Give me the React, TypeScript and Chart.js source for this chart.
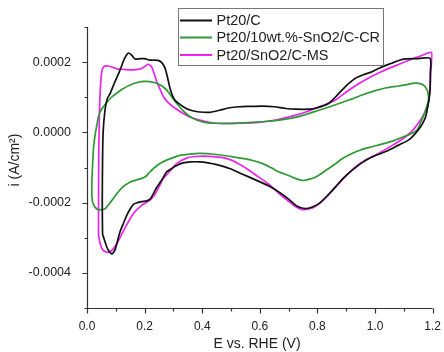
import React, { useEffect, useRef } from 'react';
import { Chart, registerables } from 'chart.js';

Chart.register(...registerables);

const FONT = '"Liberation Sans", Arial, Helvetica, sans-serif';

const seriesLabels = ['Pt20/C', 'Pt20/10wt.%-SnO2/C-CR', 'Pt20/SnO2/C-MS'];
const seriesColors = ['#111111', '#2f9a35', '#ee22ee'];

const xTickLabels = ['0.0', '0.2', '0.4', '0.6', '0.8', '1.0', '1.2'];
const yTickLabels = ['-0.0004', '-0.0002', '0.0000', '0.0002'];
const xTitle = 'E vs. RHE (V)';
const yTitle = 'i (A/cm²)';

// [E (V), i (A/cm²)] in scan order
const ptC: [number, number][] = [
  [0.054, -2.9e-4], [0.053, -2.0e-4], [0.054, -0.8e-4], [0.056, 0.0], [0.062, 0.6e-4],
  [0.070, 0.95e-4], [0.081, 1.12e-4], [0.095, 1.4e-4], [0.115, 1.78e-4], [0.130, 2.1e-4],
  [0.144, 2.26e-4], [0.155, 2.2e-4], [0.167, 2.09e-4], [0.185, 2.1e-4], [0.200, 2.1e-4],
  [0.215, 2.06e-4], [0.232, 2.06e-4], [0.247, 2.05e-4], [0.258, 2.0e-4], [0.270, 1.85e-4],
  [0.280, 1.55e-4], [0.290, 1.2e-4], [0.305, 0.92e-4], [0.334, 0.73e-4], [0.360, 0.63e-4],
  [0.391, 0.58e-4], [0.426, 0.57e-4], [0.460, 0.63e-4], [0.495, 0.7e-4], [0.530, 0.73e-4],
  [0.564, 0.74e-4], [0.610, 0.75e-4], [0.650, 0.73e-4], [0.690, 0.68e-4], [0.725, 0.66e-4],
  [0.771, 0.66e-4], [0.800, 0.7e-4], [0.840, 0.83e-4], [0.862, 1.0e-4], [0.886, 1.21e-4],
  [0.910, 1.4e-4], [0.932, 1.54e-4], [0.960, 1.64e-4], [0.990, 1.73e-4], [1.012, 1.82e-4],
  [1.035, 1.9e-4], [1.058, 1.97e-4], [1.080, 2.04e-4], [1.105, 2.09e-4], [1.150, 2.1e-4],
  [1.191, 2.11e-4], [1.192, 1.7e-4], [1.191, 1.21e-4], [1.187, 0.92e-4], [1.180, 0.6e-4],
  [1.176, 0.45e-4], [1.165, 0.25e-4], [1.150, 0.07e-4], [1.130, -0.12e-4], [1.116, -0.22e-4],
  [1.080, -0.37e-4], [1.047, -0.51e-4], [1.020, -0.6e-4], [0.989, -0.7e-4], [0.955, -0.86e-4],
  [0.920, -1.08e-4], [0.890, -1.3e-4], [0.863, -1.55e-4], [0.835, -1.8e-4], [0.805, -2.03e-4],
  [0.780, -2.13e-4], [0.759, -2.17e-4], [0.740, -2.14e-4], [0.725, -2.08e-4], [0.700, -1.9e-4],
  [0.667, -1.7e-4], [0.630, -1.52e-4], [0.587, -1.36e-4], [0.540, -1.19e-4], [0.495, -1.03e-4],
  [0.450, -0.92e-4], [0.420, -0.87e-4], [0.391, -0.84e-4], [0.360, -0.84e-4], [0.334, -0.87e-4],
  [0.310, -0.95e-4], [0.288, -1.06e-4], [0.276, -1.13e-4], [0.265, -1.28e-4], [0.252, -1.45e-4],
  [0.242, -1.57e-4], [0.230, -1.75e-4], [0.219, -1.9e-4], [0.207, -1.95e-4], [0.190, -1.97e-4],
  [0.175, -2.0e-4], [0.161, -2.05e-4], [0.150, -2.18e-4], [0.138, -2.36e-4], [0.127, -2.58e-4],
  [0.115, -2.82e-4], [0.105, -3.12e-4], [0.098, -3.33e-4], [0.090, -3.44e-4], [0.086, -3.46e-4],
  [0.078, -3.4e-4], [0.069, -3.27e-4], [0.060, -3.05e-4], [0.054, -2.9e-4],
];

const ptSnO2CR: [number, number][] = [
  [0.029, -0.03e-4], [0.034, 0.2e-4], [0.040, 0.45e-4], [0.050, 0.65e-4], [0.069, 0.85e-4],
  [0.085, 1.0e-4], [0.104, 1.12e-4], [0.125, 1.24e-4], [0.150, 1.35e-4], [0.175, 1.42e-4],
  [0.201, 1.45e-4], [0.222, 1.44e-4], [0.242, 1.4e-4], [0.260, 1.32e-4], [0.276, 1.21e-4],
  [0.295, 1.0e-4], [0.311, 0.83e-4], [0.330, 0.65e-4], [0.357, 0.45e-4], [0.385, 0.34e-4],
  [0.414, 0.28e-4], [0.450, 0.26e-4], [0.495, 0.25e-4], [0.560, 0.28e-4], [0.620, 0.31e-4],
  [0.667, 0.35e-4], [0.720, 0.42e-4], [0.782, 0.57e-4], [0.850, 0.75e-4], [0.909, 0.92e-4],
  [0.960, 1.08e-4], [1.001, 1.19e-4], [1.040, 1.27e-4], [1.082, 1.32e-4], [1.110, 1.36e-4],
  [1.139, 1.4e-4], [1.160, 1.38e-4], [1.174, 1.3e-4], [1.183, 1.15e-4], [1.186, 0.92e-4],
  [1.179, 0.73e-4], [1.170, 0.5e-4], [1.162, 0.35e-4], [1.150, 0.12e-4], [1.139, 0.02e-4],
  [1.100, -0.12e-4], [1.070, -0.22e-4], [1.030, -0.32e-4], [0.989, -0.41e-4], [0.950, -0.5e-4],
  [0.920, -0.6e-4], [0.890, -0.73e-4], [0.863, -0.89e-4], [0.830, -1.08e-4], [0.794, -1.27e-4],
  [0.770, -1.34e-4], [0.750, -1.37e-4], [0.730, -1.33e-4], [0.700, -1.23e-4], [0.667, -1.13e-4],
  [0.640, -1.01e-4], [0.610, -0.89e-4], [0.560, -0.77e-4], [0.495, -0.68e-4], [0.450, -0.63e-4],
  [0.391, -0.6e-4], [0.357, -0.62e-4], [0.320, -0.66e-4], [0.299, -0.72e-4], [0.276, -0.79e-4],
  [0.255, -0.88e-4], [0.242, -0.95e-4], [0.228, -1.05e-4], [0.219, -1.12e-4], [0.205, -1.25e-4],
  [0.190, -1.31e-4], [0.170, -1.36e-4], [0.150, -1.41e-4], [0.125, -1.55e-4], [0.104, -1.74e-4],
  [0.085, -1.95e-4], [0.063, -2.17e-4], [0.050, -2.2e-4], [0.040, -2.2e-4], [0.030, -2.15e-4],
  [0.020, -2.0e-4], [0.017, -1.8e-4], [0.017, -1.4e-4], [0.019, -1.0e-4], [0.022, -0.5e-4],
  [0.026, -0.2e-4], [0.029, -0.03e-4],
];

const ptSnO2MS: [number, number][] = [
  [0.040, -2.9e-4], [0.040, -2.0e-4], [0.041, -0.5e-4], [0.043, 0.5e-4], [0.046, 1.2e-4],
  [0.050, 1.65e-4], [0.057, 1.86e-4], [0.075, 1.89e-4], [0.104, 1.81e-4], [0.130, 1.79e-4],
  [0.161, 1.78e-4], [0.190, 1.82e-4], [0.205, 1.9e-4], [0.213, 1.94e-4], [0.224, 1.87e-4],
  [0.232, 1.7e-4], [0.242, 1.45e-4], [0.255, 1.2e-4], [0.265, 1.02e-4], [0.280, 0.86e-4],
  [0.299, 0.73e-4], [0.334, 0.54e-4], [0.360, 0.43e-4], [0.391, 0.35e-4], [0.420, 0.29e-4],
  [0.449, 0.26e-4], [0.495, 0.26e-4], [0.564, 0.27e-4], [0.610, 0.3e-4], [0.660, 0.36e-4],
  [0.725, 0.49e-4], [0.760, 0.58e-4], [0.794, 0.69e-4], [0.830, 0.8e-4], [0.863, 0.92e-4],
  [0.900, 1.15e-4], [0.932, 1.33e-4], [0.967, 1.5e-4], [1.012, 1.69e-4], [1.050, 1.83e-4],
  [1.090, 1.96e-4], [1.128, 2.09e-4], [1.160, 2.18e-4], [1.197, 2.27e-4], [1.193, 1.69e-4],
  [1.190, 1.2e-4], [1.182, 0.73e-4], [1.165, 0.45e-4], [1.150, 0.26e-4], [1.130, 0.05e-4],
  [1.105, -0.13e-4], [1.060, -0.37e-4], [1.001, -0.65e-4], [0.965, -0.8e-4], [0.932, -0.98e-4],
  [0.900, -1.23e-4], [0.863, -1.55e-4], [0.830, -1.85e-4], [0.810, -2.0e-4], [0.794, -2.1e-4],
  [0.770, -2.18e-4], [0.748, -2.2e-4], [0.725, -2.12e-4], [0.700, -1.96e-4], [0.667, -1.74e-4],
  [0.630, -1.47e-4], [0.587, -1.22e-4], [0.540, -0.96e-4], [0.495, -0.77e-4], [0.450, -0.7e-4],
  [0.391, -0.68e-4], [0.350, -0.72e-4], [0.311, -0.89e-4], [0.290, -1.08e-4], [0.275, -1.22e-4],
  [0.265, -1.31e-4], [0.250, -1.55e-4], [0.235, -1.78e-4], [0.219, -1.93e-4], [0.190, -2.08e-4],
  [0.161, -2.31e-4], [0.140, -2.6e-4], [0.121, -2.89e-4], [0.105, -3.15e-4], [0.092, -3.31e-4],
  [0.080, -3.4e-4], [0.069, -3.41e-4], [0.058, -3.37e-4], [0.052, -3.31e-4], [0.045, -3.15e-4],
  [0.040, -2.9e-4],
];

const seriesData = [ptC, ptSnO2CR, ptSnO2MS];

const isMajorX = (v: number) => Math.round(v * 10) % 2 === 0;
const isMajorY = (v: number) => Math.round(v * 1e4) % 2 === 0;

const xLabel = (v: number) => {
  const s = Number(v).toFixed(1);
  return isMajorX(v) && xTickLabels.includes(s) ? s : '';
};
const yLabel = (v: number) => {
  const n = Math.round(v * 1e4);
  const s = n === 0 ? '0.0000' : (n / 1e4).toFixed(4);
  return yTickLabels.includes(s) ? s : '';
};

const decorPlugin = {
  id: 'decor',
  afterDraw(chart: any) {
    const { ctx, chartArea, scales } = chart;
    const xs = scales.x;
    const ys = scales.y;
    const L = Math.round(chartArea.left) + 0.5;
    const B = Math.round(chartArea.bottom) + 0.5;
    ctx.save();
    ctx.strokeStyle = '#333333';
    ctx.lineWidth = 1.2;
    ctx.beginPath();
    ctx.moveTo(L, chartArea.top);
    ctx.lineTo(L, B);
    ctx.lineTo(chartArea.right, B);
    ctx.stroke();

    ctx.beginPath();
    xs.ticks.forEach((t: any) => {
      const p = Math.round(xs.getPixelForValue(t.value)) + 0.5;
      const len = isMajorX(t.value) ? 5 : 3;
      ctx.moveTo(p, B);
      ctx.lineTo(p, B + len);
    });
    ys.ticks.forEach((t: any) => {
      const p = Math.round(ys.getPixelForValue(t.value)) + 0.5;
      const len = isMajorY(t.value) ? 5 : 3;
      ctx.moveTo(L, p);
      ctx.lineTo(L - len, p);
    });
    ctx.stroke();

    // axis titles
    ctx.fillStyle = '#222222';
    ctx.font = `14px ${FONT}`;
    ctx.textAlign = 'center';
    ctx.textBaseline = 'middle';
    ctx.fillText(xTitle, 257, 344);
    ctx.save();
    ctx.translate(15, 160);
    ctx.rotate(-Math.PI / 2);
    ctx.fillText(yTitle, 0, 0);
    ctx.restore();

    // legend
    const bx = 178.5, by = 8.5, bw = 205, bh = 57;
    ctx.fillStyle = '#ffffff';
    ctx.fillRect(bx, by, bw, bh);
    ctx.strokeStyle = '#777777';
    ctx.lineWidth = 1;
    ctx.strokeRect(bx, by, bw, bh);
    const rows = [20.5, 37.5, 55];
    ctx.font = `14.5px ${FONT}`;
    ctx.textAlign = 'left';
    ctx.textBaseline = 'middle';
    seriesLabels.forEach((lab, i) => {
      ctx.strokeStyle = seriesColors[i];
      ctx.lineWidth = 2;
      ctx.beginPath();
      ctx.moveTo(180, rows[i]);
      ctx.lineTo(212, rows[i]);
      ctx.stroke();
      ctx.fillStyle = '#222222';
      ctx.fillText(lab, 216.5, rows[i] + 0.5);
    });
    ctx.restore();
  },
};

export default function App() {
  const ref = useRef<HTMLCanvasElement>(null);
  useEffect(() => {
    document.body.style.margin = '0';
    const chart = new Chart(ref.current as HTMLCanvasElement, {
      type: 'scatter',
      data: {
        datasets: seriesData.map((d, i) => ({
          label: seriesLabels[i],
          data: d.map(([x, y]) => ({ x, y })),
          showLine: true,
          borderColor: seriesColors[i],
          backgroundColor: seriesColors[i],
          borderWidth: 1.7,
          pointRadius: 0,
          tension: 0.25,
          fill: false,
        })),
      },
      options: {
        animation: false,
        responsive: false,
        devicePixelRatio: 1,
        layout: { padding: { left: 0, right: 10, top: 27, bottom: 0 } },
        plugins: { legend: { display: false }, tooltip: { enabled: false } },
        scales: {
          x: {
            type: 'linear',
            min: 0,
            max: 1.2,
            grid: { display: false },
            border: { display: false },
            ticks: {
              stepSize: 0.1,
              autoSkip: false,
              maxRotation: 0,
              minRotation: 0,
              padding: 3,
              color: '#222222',
              font: { family: FONT, size: 12 },
              callback: (v: any) => xLabel(Number(v)),
            },
            afterFit: (s: any) => { s.height = 44; },
          },
          y: {
            type: 'linear',
            min: -0.0005,
            max: 0.0003,
            grid: { display: false },
            border: { display: false },
            ticks: {
              stepSize: 0.0001,
              autoSkip: false,
              padding: 8,
              color: '#222222',
              font: { family: FONT, size: 12.5 },
              callback: (v: any) => yLabel(Number(v)),
            },
            afterFit: (s: any) => { s.width = 87; },
          },
        },
      },
      plugins: [decorPlugin],
    } as any);
    return () => chart.destroy();
  }, []);
  return (
    <div style={{ width: 444, height: 352 }}>
      <canvas ref={ref} width={444} height={352} style={{ display: 'block' }} />
    </div>
  );
}
